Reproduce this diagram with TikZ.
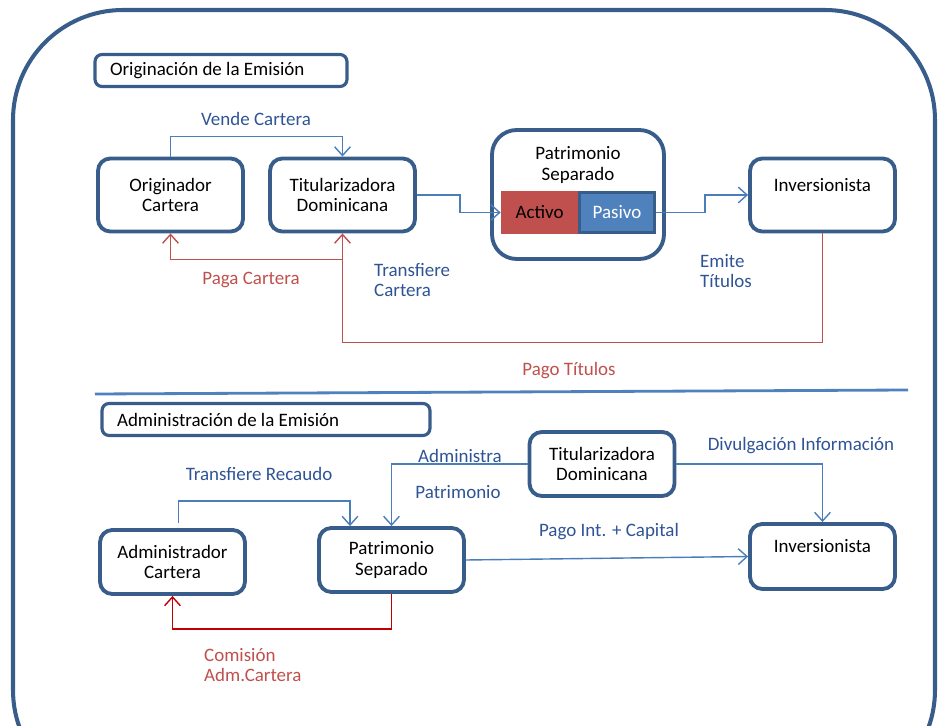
\documentclass[tikz,border=0pt]{standalone}
\usepackage{fontspec}
\setmainfont{Carlito}
\usetikzlibrary{arrows.meta,calc}
\usepackage{xcolor}
\definecolor{boxblue}{HTML}{385D8A}
\definecolor{lineblue}{HTML}{4A7EBB}
\definecolor{textblue}{HTML}{2F5496}
\definecolor{linered}{HTML}{C0504D}
\definecolor{darkred}{HTML}{C00000}
\definecolor{pasivoblue}{HTML}{4F81BD}

\begin{document}
\begin{tikzpicture}[%
    x=0.02cm, y=-0.02cm,
    font=\fontsize{10.8}{11.6}\selectfont,
    entity/.style={
      rectangle,
      draw=boxblue,
      line width=2.2pt,
      fill=white,
      rounded corners=7pt,
      align=center,
      minimum width=2.9cm,
      minimum height=1.46cm
    },
    title/.style={
      rectangle,
      draw=boxblue,
      line width=1.8pt,
      rounded corners=4pt,
      align=flush left,
      inner xsep=0.3cm,
      minimum height=0.64cm
    },
    flow/.style={
      lineblue,
      line width=0.8pt,
      -{Straight Barb[length=5pt,width=9pt]}
    },
    payment/.style={
      linered,
      line width=0.8pt,
      -{Straight Barb[length=5pt,width=9pt]}
    },
    bluelabel/.style={
      textblue,
      align=left
    },
    redlabel/.style={
      linered,
      align=left
    }
  ]
    \useasboundingbox (0,0) rectangle (938,726);

    % Big background
    \draw[boxblue, line width=2.3pt, rounded corners=2.2cm] (13,10) rectangle (935,800);

    % Originacion
    \node[title, text width=4.44cm] (T1) at (221,70.5) {Originación de la Emisión};

    \draw (170.5,195) node[entity] (A) {Originador\\Cartera}
          (342.5,195) node[entity] (B) {Titularizadora\\Dominicana}
          (822.5,195) node[entity] (E) {Inversionista\\ \phantom{I}};

    \node[entity, minimum width=3.44cm, minimum height=2.58cm, rounded corners=14pt] (P) at (578,194.5) {};
    \node[align=center] (PT) at (578,165) {Patrimonio\\Separado};
    \node[fill=linered, minimum width=1.54cm, minimum height=0.86cm, inner sep=0pt] (C) at (539.5,212.5) {Activo};
    \node[fill=pasivoblue, draw=boxblue, line width=1.6pt, text=white, minimum width=1.5cm, minimum height=0.8cm, inner sep=0pt] (D) at (617,212.5) {Pasivo};

    \draw[flow] (A.north) -- ++(0,-20) -| (B.north);
    \draw[flow] (B.east) -- ++(43,0) |- (C.west);
    \draw[flow] (D.east) -- ++(49,0) |- (E.west);
    \draw[payment] (E.south) -- ++(0,109) -| (B.south);
    \draw[payment] ($(B.south)+(0,26)$) -| (A.south);

    \node[bluelabel] (L1) at (256,119) {Vende Cartera};
    \node[redlabel] (L2) at (251,280) {Paga Cartera};
    \node[bluelabel, anchor=west] (L3) at (368,280) {Transfiere\\Cartera};
    \node[bluelabel, anchor=west] (L4) at (694,271) {Emite\\Títulos};
    \node[redlabel] (L5) at (569,371) {Pago Títulos};

    % Separator
    \draw[pasivoblue, line width=1.6pt] (95,394) -- (908,390);

    % Administracion
    \node[title, text width=5.96cm] (T2) at (266,419.5) {Administración de la Emisión};

    \draw (172.5,562) node[entity, minimum height=1.28cm] (F) {Administrador\\Cartera}
          (391.5,560) node[entity, minimum height=1.28cm] (G) {Patrimonio\\Separado}
          (602,464) node[entity, minimum height=1.28cm] (H) {Titularizadora\\Dominicana}
          (822.5,556.5) node[entity, minimum height=1.3cm] (I) {Inversionista\\ \phantom{I}};

    \draw[flow] ($(F.north)+(6,-5)$) -- ++(0,-22) -| ($(G.north)+(-41.5,0)$);
    \draw[flow] (H.west) -| (G.north);
    \draw[flow] (H.east) -| (I.north);
    \draw[flow] (G.east) -- (I.west);
    \draw[payment, darkred] (G.south) -- ++(0,35) -| (F.south);

    \node[bluelabel] (M1) at (259,474) {Transfiere Recaudo};
    \node[bluelabel] (M2) at (460,456) {Administra};
    \node[bluelabel] (M3) at (458,492) {Patrimonio};
    \node[bluelabel] (M4) at (801,446) {Divulgación Información};
    \node[bluelabel] (M5) at (609,532) {Pago Int. + Capital};
    \node[redlabel, anchor=west] (M6) at (198,665) {Comisión\\Adm.Cartera};
\end{tikzpicture}
\end{document}
